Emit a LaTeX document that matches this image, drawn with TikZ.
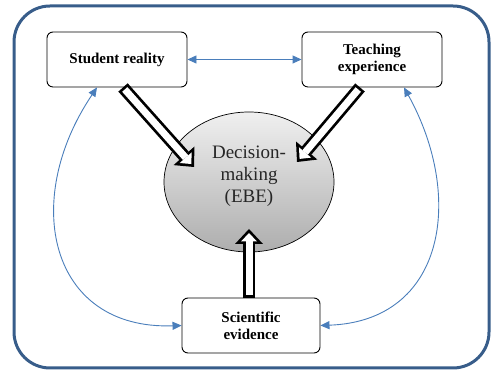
\documentclass[tikz,border=0pt]{standalone}
\usepackage{fontspec}
\setmainfont{Liberation Serif}
\usetikzlibrary{arrows.meta,shapes.geometric}

\definecolor{frameblue}{HTML}{385D8A}
\definecolor{linkblue}{HTML}{4A7EBB}

\begin{document}
\begin{tikzpicture}[x=1pt,y=1pt,
    box/.style={draw, rounded corners=6pt, line width=0.9pt, minimum width=140pt,
      minimum height=55pt, align=center, font=\fontsize{15}{17}\selectfont\bfseries},
    link/.style={linkblue, line width=0.9pt,
      {Triangle[length=9pt,width=8pt]}-{Triangle[length=9pt,width=8pt]}},
    fat/.style={line width=12.5pt, -{Triangle[length=15pt,width=28pt,line width=0pt]}},
    fatfill/.style={white, line width=7pt, shorten <=2.7pt, shorten >=4pt,
      -{Triangle[length=8.5pt,width=16pt,line width=0pt]}}]
  \useasboundingbox (0,0) rectangle (492,371);
  % outer frame
  \draw[frameblue, line width=3pt, rounded corners=36pt] (14,3) rectangle (489,365);

  \node[box] (stud) at (117,311.5) {Student reality};
  \node[box] (teach) at (372,311.5) {Teaching\\experience};
  \node[box, minimum width=138pt] (sci) at (251,45.5) {Scientific\\evidence};
  \node[ellipse, draw, line width=0.7pt, minimum width=170pt, minimum height=140pt,
    top color=black!6, bottom color=black!32] (dec) at (249,189) {};
  \node[align=center, text=black!85, font=\fontsize{19}{22}\selectfont]
    (dectext) at ([yshift=6]dec.center) {Decision-\\making\\(EBE)};

  % blue links
  \draw[link] (stud.east) -- (teach.west);
  \draw[link] ([xshift=-20]stud.south) to[out=-124, in=182, out distance=137, in distance=132] (sci.west);
  \draw[link] ([xshift=32]teach.south) to[out=-61, in=2, out distance=125, in distance=125] (sci.east);

  % hollow arrows into the decision
  \draw[fat] ([xshift=6]stud.south) -- ([shift={(-55,15)}]dec.center);
  \draw[fatfill] ([xshift=6]stud.south) -- ([shift={(-55,15)}]dec.center);
  \draw[fat] ([xshift=-12]teach.south) -- ([shift={(48,20)}]dec.center);
  \draw[fatfill] ([xshift=-12]teach.south) -- ([shift={(48,20)}]dec.center);
  \draw[fat] ([xshift=-2]sci.north) -- ([shift={(0,-47)}]dec.center);
  \draw[fatfill] ([xshift=-2]sci.north) -- ([shift={(0,-47)}]dec.center);
\end{tikzpicture}
\end{document}
